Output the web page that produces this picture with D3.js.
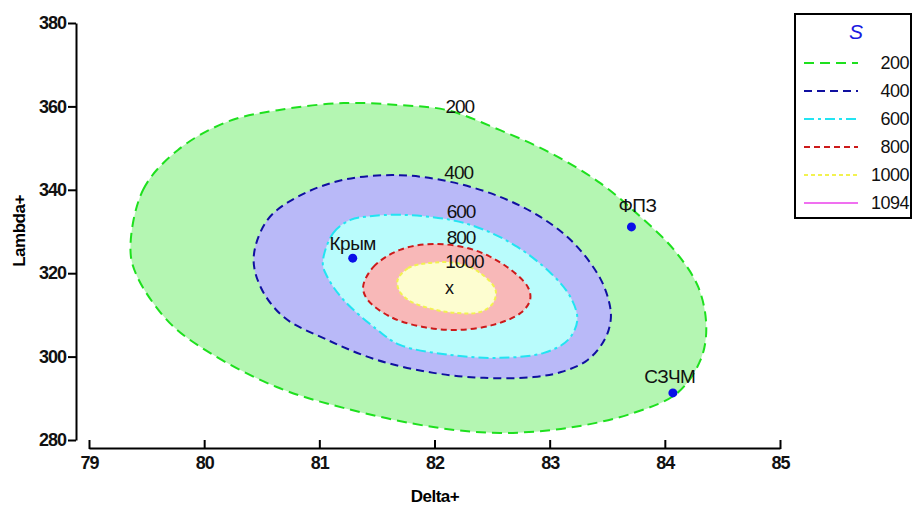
<!DOCTYPE html>
<html>
<head>
<meta charset="utf-8">
<script src="https://cdn.jsdelivr.net/npm/d3@7"></script>
<style>
  body { margin: 0; background: #fff; }
  text { font-family: "Liberation Sans", Arial, sans-serif; }
</style>
</head>
<body>
<div id="chart"></div>
<script>
// Contour levels of S and their outlines (Delta+, Lambda+)
const levels = [200, 400, 600, 800, 1000, 1094];

const contour200 = [
  [79.36, 325.6], [79.47, 340.0], [79.77, 349.5], [80.20, 356.3], [80.64, 359.1],
  [81.21, 360.8], [81.70, 360.3], [82.11, 359.1], [82.57, 354.3], [83.01, 348.8],
  [83.44, 341.6], [83.79, 333.5], [84.08, 325.6], [84.29, 316.7], [84.36, 307.1],
  [84.31, 299.2], [84.11, 291.3], [83.73, 286.5], [83.16, 282.9], [82.57, 281.7],
  [81.99, 283.1], [81.21, 287.7], [80.63, 292.7], [80.05, 300.9], [79.70, 308.1],
  [79.42, 319.1]
];
const contour400 = [
  [80.43, 323.9], [80.55, 332.8], [80.81, 338.3], [81.21, 342.4], [81.70, 343.5],
  [82.14, 341.9], [82.57, 338.3], [82.92, 333.5], [83.21, 327.2], [83.44, 318.7],
  [83.52, 312.6], [83.53, 308.8], [83.48, 304.2], [83.33, 299.2], [83.10, 296.3],
  [82.86, 295.1], [82.43, 294.9], [81.99, 296.1], [81.50, 299.2], [81.07, 304.0],
  [80.69, 309.5], [80.49, 316.7]
];
const contour600 = [
  [81.03, 322.4], [81.12, 329.6], [81.27, 332.8], [81.42, 333.6], [81.70, 334.0],
  [82.14, 332.8], [82.43, 330.4], [82.72, 326.3], [83.01, 320.0], [83.18, 314.3],
  [83.24, 308.8], [83.16, 304.0], [82.95, 300.9], [82.57, 299.7], [82.14, 300.4],
  [81.70, 302.8], [81.50, 306.5], [81.21, 313.6], [81.07, 319.1]
];
const contour800 = [
  [81.38, 316.7], [81.47, 321.5], [81.70, 325.6], [81.99, 327.0], [82.34, 325.6],
  [82.63, 321.5], [82.81, 316.7], [82.83, 313.6], [82.75, 310.5], [82.51, 307.6],
  [82.20, 306.4], [81.90, 307.1], [81.62, 309.5], [81.42, 313.6]
];
const contour1000 = [
  [81.68, 318.4], [81.77, 321.2], [81.94, 322.4], [82.20, 322.4], [82.40, 320.0],
  [82.53, 316.0], [82.51, 312.9], [82.40, 310.7], [82.17, 310.5], [81.94, 311.7],
  [81.77, 313.6], [81.69, 316.0]
];

// where the level numbers sit on the plot (baseline)
const levelLabelPos = [[82.22, 358.4], [82.21, 342.6], [82.23, 333.2], [82.23, 327.0], [82.26, 321.2]];

// maximum of S
const maxPoint = [82.13, 316.2];

// named places
const placeNames = ["Крым", "ФПЗ", "СЗЧМ"];
const placeDelta = [81.29, 83.71, 84.07];
const placeLambda = [323.6, 331.1, 291.3];

const xTicks = [79, 80, 81, 82, 83, 84, 85];
const yTicks = [280, 300, 320, 340, 360, 380];

// styling per level
const strokeColors = ["#1ee01e", "#1010a0", "#22e4f2", "#cc1a1a", "#f2f250", "#f070f0"];
const fillColors = ["#b4f6b2", "#b9b9f8", "#b9fcfc", "#f8b8b8", "#fdfdd0"];
const dashes = ["10,6", "8,5", "10,4,3,4", "6,4", "4,3", null];

const W = 913, H = 507;

const svg = d3.select("#chart").append("svg")
    .attr("width", W)
    .attr("height", H);

const x = d3.scaleLinear().domain([79, 85]).range([89, 780]);
const y = d3.scaleLinear().domain([280, 380]).range([440, 23]);

// contours, biggest first so the inner ones sit on top
const contours = [contour200, contour400, contour600, contour800, contour1000];
const line = d3.line()
    .x(d => x(d[0]))
    .y(d => y(d[1]))
    .curve(d3.curveCatmullRomClosed.alpha(0.5));

svg.selectAll(".contour")
    .data(contours)
    .join("path")
        .attr("class", "contour")
        .attr("d", line)
        .attr("fill", (d, i) => fillColors[i])
        .attr("stroke", (d, i) => strokeColors[i])
        .attr("stroke-width", 2)
        .attr("stroke-dasharray", (d, i) => dashes[i]);

// level labels
svg.selectAll(".lvl")
    .data(levelLabelPos)
    .join("text")
        .attr("class", "lvl")
        .attr("x", d => x(d[0]))
        .attr("y", d => y(d[1]))
        .attr("text-anchor", "middle")
        .attr("font-size", 19)
        .attr("letter-spacing", -1)
        .attr("fill", "#111")
        .text((d, i) => levels[i]);

// max marker
svg.append("text")
    .attr("x", x(maxPoint[0]))
    .attr("y", y(maxPoint[1]) + 5)
    .attr("text-anchor", "middle")
    .attr("font-size", 18)
    .attr("fill", "#111")
    .text("x");

// points
const places = placeNames.map((n, i) => ({ name: n, dx: placeDelta[i], ly: placeLambda[i] }));
svg.selectAll(".place")
    .data(places)
    .join("circle")
        .attr("class", "place")
        .attr("cx", d => x(d.dx))
        .attr("cy", d => y(d.ly))
        .attr("r", 4.5)
        .attr("fill", "#0a10e8");

const labelShift = [[0, -8], [6, -15], [-3, -10]];
svg.selectAll(".placeLabel")
    .data(places)
    .join("text")
        .attr("class", "placeLabel")
        .attr("x", (d, i) => x(d.dx) + labelShift[i][0])
        .attr("y", (d, i) => y(d.ly) + labelShift[i][1])
        .attr("text-anchor", "middle")
        .attr("font-size", 19)
        .attr("letter-spacing", -0.5)
        .attr("fill", "#111")
        .text(d => d.name);

// Y axis
const yAxis = svg.append("g")
    .attr("transform", "translate(76,0)")
    .call(d3.axisLeft(y).tickValues(yTicks).tickSize(8).tickSizeOuter(0));
yAxis.select(".domain").attr("stroke", "#000").attr("stroke-width", 2);
yAxis.selectAll(".tick line").attr("stroke-width", 2);
yAxis.selectAll(".tick text")
    .attr("font-size", 18)
    .attr("font-weight", "bold")
    .attr("letter-spacing", -1)
    .attr("fill", "#111")
    .attr("x", -10);

// X axis, ticks pointing up into the plot
const xAxis = svg.append("g")
    .attr("transform", "translate(0,448)")
    .call(d3.axisBottom(x).tickValues(xTicks).tickFormat(d3.format("d")).tickSize(0).tickSizeOuter(0));
xAxis.select(".domain").attr("stroke", "#000").attr("stroke-width", 2);
xAxis.selectAll(".tick line").attr("y1", -8).attr("y2", 1).attr("stroke-width", 2);
xAxis.selectAll(".tick text")
    .attr("font-size", 18)
    .attr("font-weight", "bold")
    .attr("letter-spacing", -1)
    .attr("fill", "#111")
    .attr("y", 8);

// axis titles
svg.append("text")
    .attr("x", 435)
    .attr("y", 502)
    .attr("text-anchor", "middle")
    .attr("font-size", 17)
    .attr("font-weight", "bold")
    .attr("letter-spacing", -0.5)
    .text("Delta+");

svg.append("text")
    .attr("transform", "translate(25,231) rotate(-90)")
    .attr("text-anchor", "middle")
    .attr("font-size", 17)
    .attr("font-weight", "bold")
    .attr("letter-spacing", -0.5)
    .text("Lambda+");

// legend
const legend = svg.append("g");
legend.append("rect")
    .attr("x", 795)
    .attr("y", 14)
    .attr("width", 116)
    .attr("height", 204)
    .attr("fill", "#fff")
    .attr("stroke", "#000")
    .attr("stroke-width", 2);

legend.append("text")
    .attr("x", 856)
    .attr("y", 39)
    .attr("text-anchor", "middle")
    .attr("font-style", "italic")
    .attr("font-size", 21)
    .attr("fill", "#1a1ae0")
    .text("S");

const rowY = d3.scaleLinear().domain([0, 5]).range([63, 203]);
const rows = legend.selectAll(".row")
    .data(levels)
    .join("g")
        .attr("class", "row")
        .attr("transform", (d, i) => `translate(0,${rowY(i)})`);

rows.append("line")
    .attr("x1", 804)
    .attr("x2", 858)
    .attr("stroke", (d, i) => strokeColors[i])
    .attr("stroke-width", 2)
    .attr("stroke-dasharray", (d, i) => dashes[i]);

rows.append("text")
    .attr("x", 909)
    .attr("y", 6)
    .attr("text-anchor", "end")
    .attr("font-size", 18)
    .attr("letter-spacing", -0.5)
    .attr("fill", "#111")
    .text(d => d);
</script>
</body>
</html>
